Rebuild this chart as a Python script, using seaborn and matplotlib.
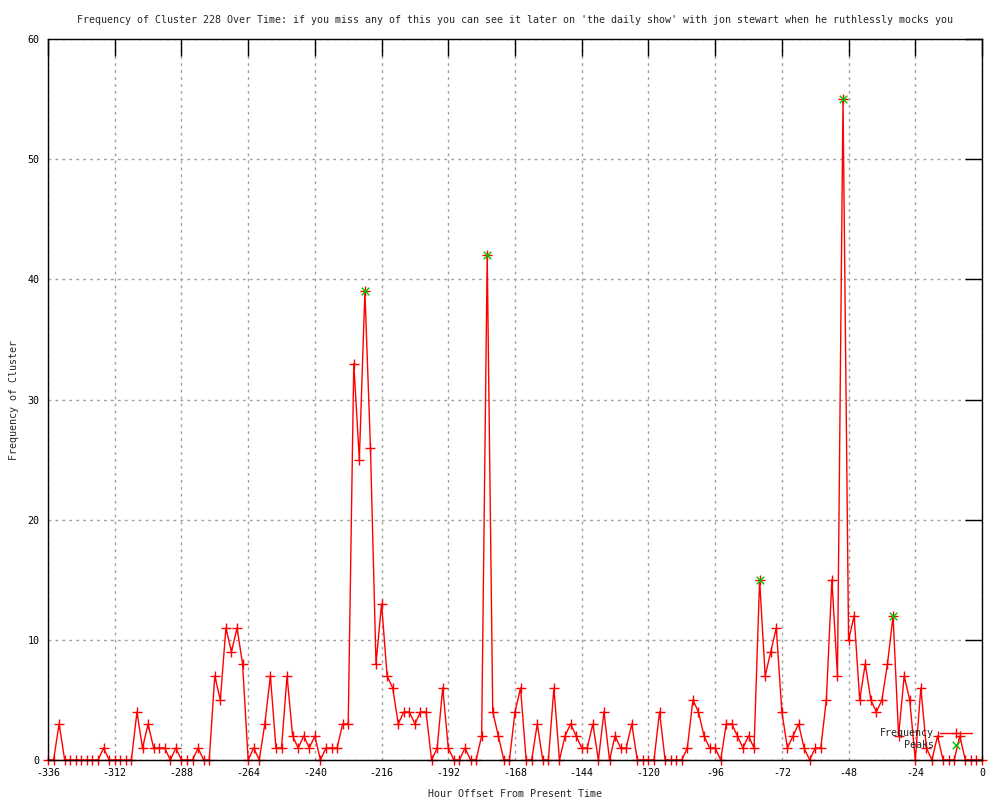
import numpy as np
import pandas as pd
import seaborn as sns
import matplotlib
matplotlib.use("Agg")
import matplotlib.pyplot as plt

# Frequency per 2-hour bin, from -336 h up to 0 h
hours = list(range(-336, 1, 2))
frequency = [
    0, 0, 3, 0, 0, 0, 0, 0, 0, 0,
    1, 0, 0, 0, 0, 0, 4, 1, 3, 1,
    1, 1, 0, 1, 0, 0, 0, 1, 0, 0,
    7, 5, 11, 9, 11, 8, 0, 1, 0, 3,
    7, 1, 1, 7, 2, 1, 2, 1, 2, 0,
    1, 1, 1, 3, 3, 33, 25, 39, 26, 8,
    13, 7, 6, 3, 4, 4, 3, 4, 4, 0,
    1, 6, 1, 0, 0, 1, 0, 0, 2, 42,
    4, 2, 0, 0, 4, 6, 0, 0, 3, 0,
    0, 6, 0, 2, 3, 2, 1, 1, 3, 0,
    4, 0, 2, 1, 1, 3, 0, 0, 0, 0,
    4, 0, 0, 0, 0, 1, 5, 4, 2, 1,
    1, 0, 3, 3, 2, 1, 2, 1, 15, 7,
    9, 11, 4, 1, 2, 3, 1, 0, 1, 1,
    5, 15, 7, 55, 10, 12, 5, 8, 5, 4,
    5, 8, 12, 2, 7, 5, 0, 6, 1, 0,
    2, 0, 0, 0, 2, 0, 0, 0, 0,
]

# detected peaks
peak_hours = [-222, -178, -80, -50, -32]
peak_values = [39, 42, 15, 55, 12]

x_ticks = list(range(-336, 1, 24))
y_ticks = list(range(0, 61, 10))

title = ("Frequency of Cluster 228 Over Time: if you miss any of this you can see it "
         "later on 'the daily show' with jon stewart when he ruthlessly mocks you")

sns.set_style("white")
plt.rcParams['font.family'] = ['DejaVu Sans Mono', 'DejaVu Sans']
plt.rcParams['axes.unicode_minus'] = False
fs = 7.2
red = '#ff0000'
green = '#00c000'

df = pd.DataFrame({'hour': hours, 'freq': frequency})
peaks = pd.DataFrame({'hour': peak_hours, 'freq': peak_values})

fig = plt.figure(figsize=(10, 8), dpi=100)
ax = fig.add_axes([0.048, 0.05, 0.934, 0.901])

sns.lineplot(data=df, x='hour', y='freq', ax=ax, color=red, lw=1,
             marker='+', markersize=7, markeredgewidth=1, markeredgecolor=red,
             label='Frequency', zorder=3, clip_on=False)
sns.scatterplot(data=peaks, x='hour', y='freq', ax=ax, color=green, marker='x',
                s=30, linewidth=1, label='Peaks', zorder=4)

ax.set_xlim(-336, 0)
ax.set_ylim(0, 60)
ax.set_xticks(x_ticks)
ax.set_yticks(y_ticks)
ax.grid(True, color='#a0a0a0', linestyle=(0, (2, 3)), linewidth=1)
ax.tick_params(direction='in', length=12, width=1, top=True, right=True,
               labelsize=fs, colors='black')
ax.tick_params(axis='x', pad=6)
ax.tick_params(axis='y', pad=6)
for s in ax.spines.values():
    s.set_color('black')
    s.set_linewidth(1)
    s.set_zorder(5)

ax.set_title(title, fontsize=fs, pad=12)
ax.set_xlabel('Hour Offset From Present Time', fontsize=fs, labelpad=8)
ax.set_ylabel('Frequency of Cluster', fontsize=fs, labelpad=6)

leg = ax.legend(loc='lower right', frameon=False, markerfirst=False, fontsize=fs,
                handlelength=3.2, handletextpad=0.6, labelspacing=0.15,
                borderaxespad=0.6)
for t in leg.get_texts():
    t.set_ha('right')

fig.savefig('out.png', dpi=100)
